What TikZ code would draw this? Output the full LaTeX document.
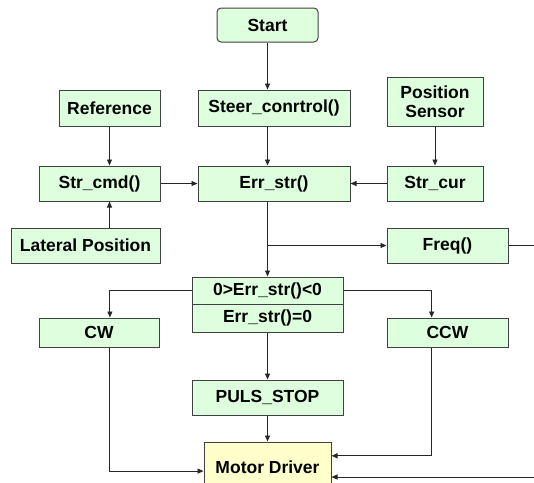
\documentclass[tikz,border=0pt]{standalone}
\usepackage{fontspec}
\setmainfont{Liberation Sans}
\usepackage{xcolor}
\usetikzlibrary{positioning,calc,arrows.meta}
\definecolor{BoxGreen}{RGB}{221,255,221}
\definecolor{BoxYellow}{RGB}{255,255,204}
\definecolor{BoxLine}{RGB}{64,64,64}
\tikzset{
    flowbox/.style={rectangle, draw=BoxLine, fill=BoxGreen, line width=1pt, inner sep=0pt,
        font=\fontsize{17.5}{19}\selectfont\bfseries, align=center},
    arr/.style={draw=black!85, line width=0.9pt, -{Triangle[length=6pt,width=5pt]}},
    ln/.style={draw=black!85, line width=0.9pt}
}
\begin{document}
\begin{tikzpicture}[x=1pt, y=-1pt]
    \useasboundingbox (0,0) rectangle (534,482);
    % boxes
    \node[flowbox, rounded corners=4pt, minimum width=101pt, minimum height=34pt] (start) at (267.5,25) {Start};
    \node[flowbox, minimum width=101pt, minimum height=36pt] (ref) at (109.5,108) {Reference};
    \node[flowbox, minimum width=152pt, minimum height=36pt] (steer) at (274,108) {Steer\_conrtrol()};
    \node[flowbox, minimum width=96pt, minimum height=49pt] (sensor) at (435,101.5) {Position\\Sensor};
    \node[flowbox, minimum width=121pt, minimum height=35pt] (strcmd) at (99.5,183.5) {Str\_cmd()};
    \node[flowbox, minimum width=152pt, minimum height=35pt] (err) at (274,183.5) {Err\_str()};
    \node[flowbox, minimum width=96pt, minimum height=35pt] (strcur) at (435,183.5) {Str\_cur};
    \node[flowbox, minimum width=149pt, minimum height=35pt] (lateral) at (85.5,245.5) {Lateral Position};
    \node[flowbox, minimum width=121pt, minimum height=35pt] (freq) at (447.5,245.5) {Freq()};
    \node[flowbox, minimum width=151pt, minimum height=27pt] (dectop) at (267.5,290.5) {0>Err\_str()<0};
    \node[flowbox, minimum width=151pt, minimum height=28pt] (decbot) at (267.5,318) {Err\_str()=0};
    \node[flowbox, minimum width=120pt, minimum height=29pt] (cw) at (99,332.5) {CW};
    \node[flowbox, minimum width=121pt, minimum height=29pt] (ccw) at (447.5,332.5) {CCW};
    \node[flowbox, minimum width=151pt, minimum height=35pt] (puls) at (267.5,397.5) {PULS\_STOP};
    \node[flowbox, fill=BoxYellow, minimum width=127pt, minimum height=50pt] (motor) at (267.5,467) {Motor Driver};
    % free ends at the right edge
    \coordinate (freqout) at (540,245.5);
    \coordinate (motin) at (540,477);
    \coordinate (split) at (start.south |- freq.west);
    % connectors
    \draw[arr] (start.south) -- (start.south |- steer.north);
    \draw[arr] (start.south |- steer.south) -- (start.south |- err.north);
    \draw[arr] (ref.south) -- (ref.south |- strcmd.north);
    \draw[arr] (ref.south |- lateral.north) -- (ref.south |- strcmd.south);
    \draw[arr] (sensor.south) -- (sensor.south |- strcur.north);
    \draw[arr] (strcmd.east) -- (err.west);
    \draw[arr] (strcur.west) -- (err.east);
    \draw[arr] (start.south |- err.south) -- (start.south |- dectop.north);
    \draw[arr] (split) -- (freq.west);
    \draw[ln] (freq.east) -- (freqout);
    \draw[arr] (dectop.west) -| ($(cw.north west)!0.59!(cw.north east)$);
    \draw[arr] (dectop.east) -| ($(ccw.north west)!0.37!(ccw.north east)$);
    \draw[arr] (decbot.south) -- (puls.north);
    \draw[arr] (puls.south) -- (motor.north);
    \draw[arr] ($(cw.south west)!0.59!(cw.south east)$) |- ($(motor.north west)!0.58!(motor.south west)$);
    \draw[arr] ($(ccw.south west)!0.37!(ccw.south east)$) |- ($(motor.north east)!0.28!(motor.south east)$);
    \draw[arr] (motin) -- (motin -| motor.east);
\end{tikzpicture}
\end{document}
